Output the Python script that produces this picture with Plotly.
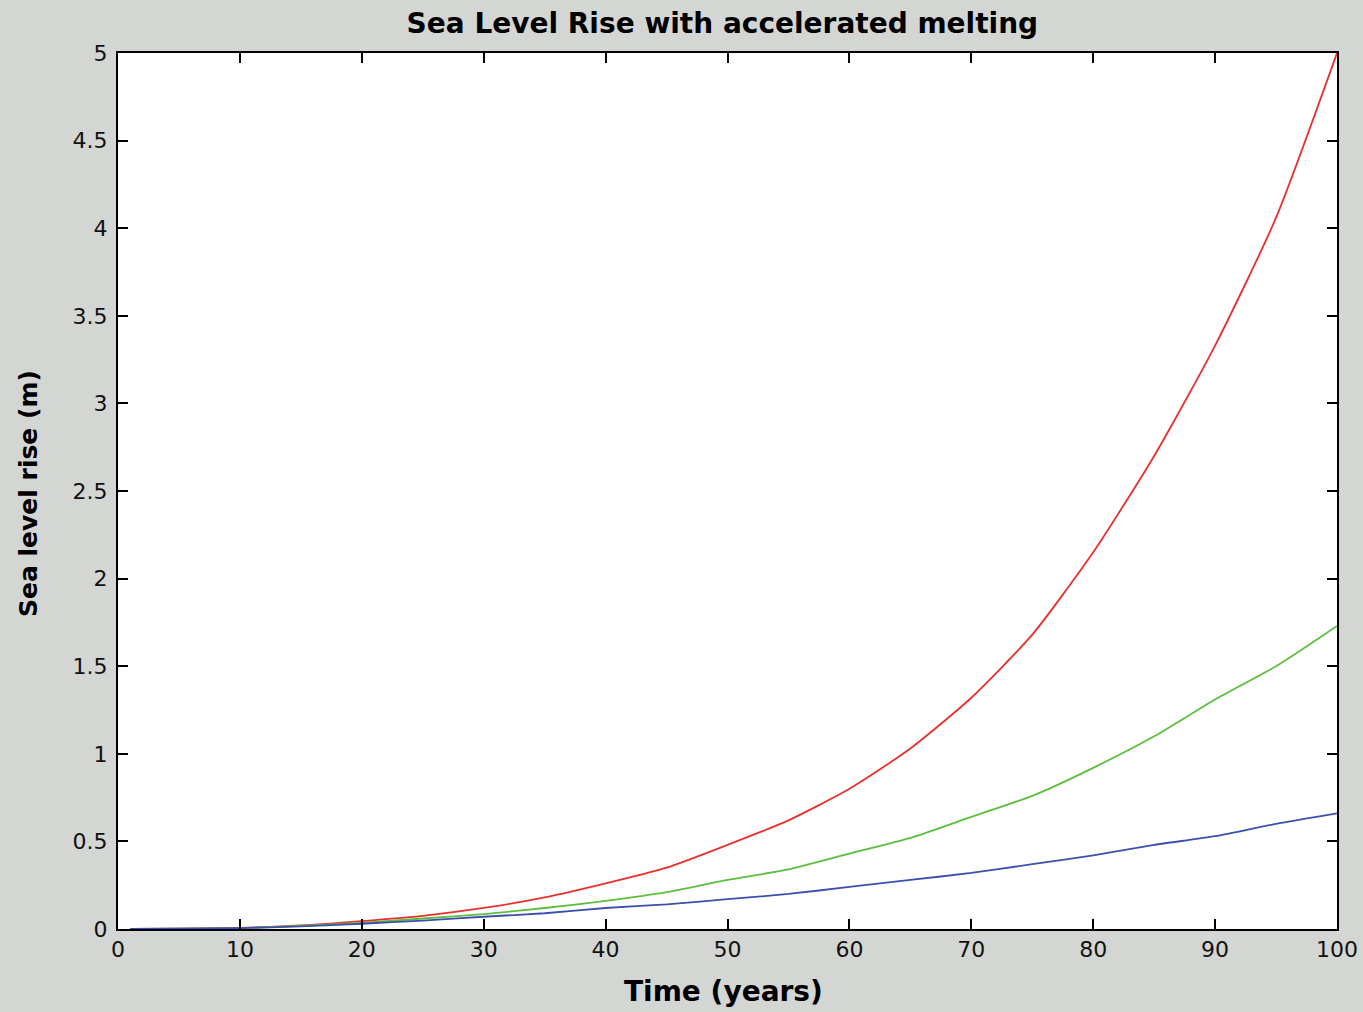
import plotly.graph_objects as go

years = [1, 5, 10, 15, 20, 25, 30, 35, 40, 45, 50, 55, 60, 65, 70, 75, 80, 85, 90, 95, 100]
red_rise = [0, 0.002, 0.006, 0.02, 0.045, 0.075, 0.12, 0.18, 0.26, 0.35, 0.48, 0.62, 0.8, 1.03, 1.32, 1.68, 2.15, 2.7, 3.33, 4.06, 5.0]
green_rise = [0, 0.002, 0.005, 0.018, 0.035, 0.06, 0.085, 0.12, 0.16, 0.21, 0.28, 0.34, 0.43, 0.52, 0.64, 0.76, 0.92, 1.1, 1.31, 1.5, 1.73]
blue_rise = [0, 0.002, 0.005, 0.015, 0.03, 0.048, 0.07, 0.09, 0.12, 0.14, 0.17, 0.2, 0.24, 0.28, 0.32, 0.37, 0.42, 0.48, 0.53, 0.6, 0.66]

x_ticks = [0, 10, 20, 30, 40, 50, 60, 70, 80, 90, 100]
y_ticks = [0, 0.5, 1, 1.5, 2, 2.5, 3, 3.5, 4, 4.5, 5]

FONT = "DejaVu Sans, Liberation Sans, sans-serif"

fig = go.Figure()
for vals, col in [(red_rise, "#e8302c"), (green_rise, "#5cbf3c"), (blue_rise, "#3a4fb0")]:
    fig.add_trace(go.Scatter(x=years, y=vals, mode="lines",
                             line=dict(color=col, width=1.8, shape="spline", smoothing=0.6),
                             showlegend=False))

axis_common = dict(showline=True, linecolor="black", linewidth=2, mirror="ticks",
                   ticks="inside", ticklen=10, tickwidth=2, tickcolor="black",
                   showgrid=False, zeroline=False, automargin=False,
                   tickfont=dict(family=FONT, size=22, color="#111"))

fig.update_layout(
    width=1363, height=1012,
    paper_bgcolor="#d4d6d4", plot_bgcolor="white",
    margin=dict(l=118, r=26, t=53, b=83),
    title=dict(text="<b>Sea Level Rise with accelerated melting</b>", x=0.53, xanchor="center",
               y=0.977, yanchor="middle",
               font=dict(family=FONT, size=28, color="black")),
    xaxis=dict(range=[0, 100], tickvals=x_ticks, ticktext=[str(v) for v in x_ticks], **axis_common),
    yaxis=dict(range=[0, 5], tickvals=y_ticks, ticktext=[("%g" % v) for v in y_ticks],
               ticklabelstandoff=4, **axis_common),
    annotations=[
        dict(text="<b>Time (years)</b>", xref="paper", yref="paper", x=0.5, y=0,
             xshift=-4, yshift=-62, xanchor="center", yanchor="middle", showarrow=False,
             font=dict(family=FONT, size=28, color="black")),
        dict(text="<b>Sea level rise (m)</b>", xref="paper", yref="paper", x=0, y=0.5,
             xshift=-90, yshift=-3, xanchor="center", yanchor="middle", textangle=-90,
             showarrow=False, font=dict(family=FONT, size=25, color="black")),
    ],
)

fig.write_html("out.html")
